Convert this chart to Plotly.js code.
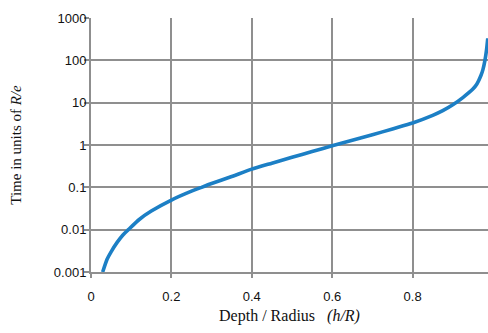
<!DOCTYPE html>
<html>
<head>
<meta charset="utf-8">
<script src="https://cdn.plot.ly/plotly-3.0.1.min.js"></script>
<style>html,body{margin:0;padding:0;background:#fff;}#chart{width:488px;height:333px;}</style>
</head>
<body>
<div id="chart"></div>
<script>
// Depth / Radius (h/R)
const depthRatio = [0.029, 0.04, 0.05, 0.065, 0.08, 0.093, 0.12, 0.15, 0.2, 0.25, 0.275, 0.3, 0.35, 0.4, 0.45, 0.5, 0.55, 0.6, 0.65, 0.7, 0.75, 0.8, 0.85, 0.875, 0.9, 0.925, 0.95, 0.96, 0.97, 0.975, 0.98, 0.984, 0.987];
// Time in units of R/e
const timeValues = [0.001, 0.0020, 0.0030, 0.0050, 0.0076, 0.010, 0.0174, 0.0275, 0.050, 0.081, 0.100, 0.123, 0.180, 0.269, 0.372, 0.513, 0.700, 0.955, 1.29, 1.74, 2.40, 3.31, 5.01, 6.46, 8.91, 13.2, 20.9, 27.5, 43.7, 60.3, 100, 178, 331];

const xTickVals = [0, 0.2, 0.4, 0.6, 0.8, 1];
const xTickText = ["0", "0.2", "0.4", "0.6", "0.8", "1"];
const yTickVals = [0.001, 0.01, 0.1, 1, 10, 100, 1000];
const yTickText = ["0.001", "0.01", "0.1", "1", "10", "100", "1000"];

const gridColor = "#8f8f8f";
const tickFont = {family: "Liberation Sans, Arial, sans-serif", size: 13, color: "#111"};
const xTitleFont = {family: "Liberation Serif, Times New Roman, serif", size: 16, color: "#111"};
const yTitleFont = {family: "Liberation Serif, Times New Roman, serif", size: 15, color: "#111"};

const trace = {
  x: depthRatio,
  y: timeValues,
  type: "scatter",
  mode: "lines",
  line: {color: "#1c7fc5", width: 3.6, shape: "spline", smoothing: 0.5},
  hoverinfo: "skip"
};

const layout = {
  width: 488,
  height: 333,
  margin: {l: 91, r: 0, t: 18, b: 61},
  paper_bgcolor: "#fff",
  plot_bgcolor: "#fff",
  showlegend: false,
  xaxis: {
    range: [0, 0.9876],
    tickvals: xTickVals,
    ticktext: xTickText,
    showgrid: true,
    gridcolor: gridColor,
    gridwidth: 2,
    showline: true,
    linecolor: gridColor,
    linewidth: 2,
    zeroline: false,
    ticks: "outside",
    ticklen: 4,
    tickwidth: 2,
    tickcolor: gridColor,
    tickfont: tickFont,
    ticklabelstandoff: 7,
    title: {text: "Depth / Radius   <i>(h/R)</i>", font: xTitleFont, standoff: 7}
  },
  yaxis: {
    type: "log",
    range: [-3, 3],
    tickvals: yTickVals,
    ticktext: yTickText,
    showgrid: true,
    gridcolor: gridColor,
    gridwidth: 2,
    showline: true,
    linecolor: gridColor,
    linewidth: 2,
    zeroline: false,
    ticks: "outside",
    ticklen: 5,
    tickwidth: 2,
    tickcolor: gridColor,
    tickfont: tickFont,
    ticklabelstandoff: -5,
    title: {text: "Time in units of <i>R/e</i>", font: yTitleFont, standoff: 29}
  }
};

Plotly.newPlot("chart", [trace], layout, {staticPlot: true, displayModeBar: false});
</script>
</body>
</html>
